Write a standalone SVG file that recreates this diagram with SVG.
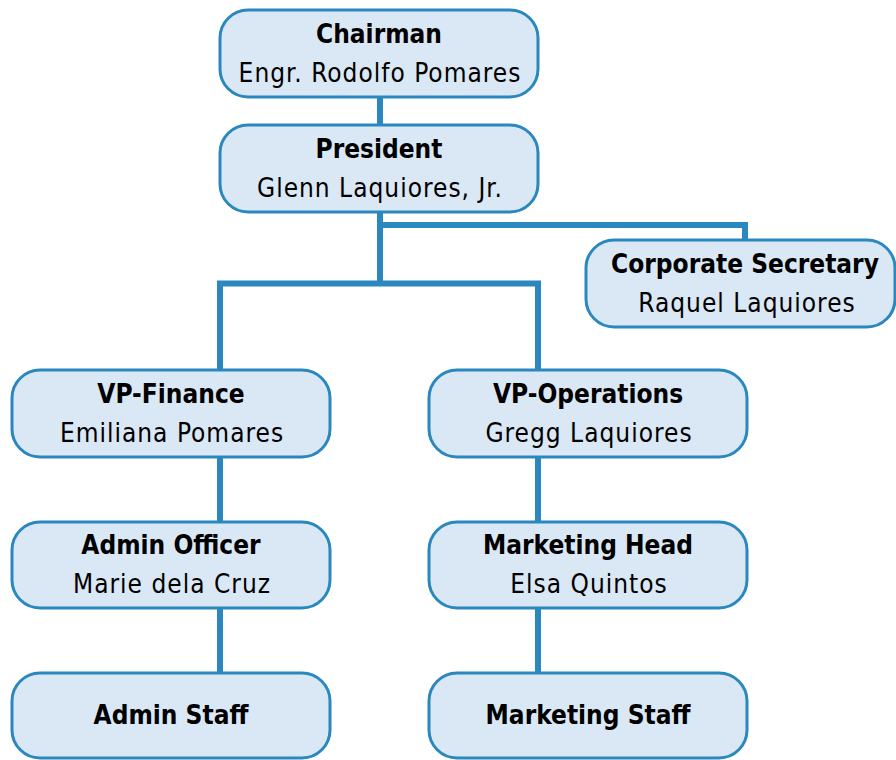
<svg xmlns="http://www.w3.org/2000/svg" width="896" height="760" viewBox="0 0 896 760">
  <style>
    .box { fill: #d9e8f4; stroke: #2b88bf; stroke-width: 3; }
    .title { font-family: "DejaVu Sans Condensed", "DejaVu Sans", sans-serif; font-stretch: condensed; font-weight: bold; font-size: 26px; fill: #000; text-anchor: middle; }
    .name { font-family: "DejaVu Sans Condensed", "DejaVu Sans", sans-serif; font-stretch: condensed; font-size: 26px; letter-spacing: 1px; fill: #000; text-anchor: middle; }
    .link { fill: none; stroke: #2b88bf; stroke-width: 6; stroke-linejoin: miter; }
  </style>
  <rect width="896" height="760" fill="#ffffff"/>

  <g id="connectors">
    <path class="link" d="M380,97 V125"/>
    <path class="link" d="M380,212 V283 M220,370 V283.5 H538 V370"/>
    <path class="link" d="M380,225 H745 V240"/>
    <path class="link" d="M220,457 V522 M220,608 V673"/>
    <path class="link" d="M538,457 V522 M538,608 V673"/>
  </g>

  <g id="chairman">
    <rect class="box" x="220" y="10" width="318" height="87" rx="28"/>
    <text class="title" x="379" y="43">Chairman</text>
    <text class="name" x="380" y="82">Engr. Rodolfo Pomares</text>
  </g>
  <g id="president">
    <rect class="box" x="220" y="125" width="318" height="87" rx="28"/>
    <text class="title" x="379" y="158">President</text>
    <text class="name" x="380" y="197">Glenn Laquiores, Jr.</text>
  </g>
  <g id="corporate-secretary">
    <rect class="box" x="586" y="240" width="309" height="87" rx="28"/>
    <text class="title" x="745" y="273">Corporate Secretary</text>
    <text class="name" x="747" y="312">Raquel Laquiores</text>
  </g>
  <g id="vp-finance">
    <rect class="box" x="12" y="370" width="318" height="87" rx="28"/>
    <text class="title" x="171" y="403">VP-Finance</text>
    <text class="name" x="172" y="442">Emiliana Pomares</text>
  </g>
  <g id="vp-operations">
    <rect class="box" x="429" y="370" width="318" height="87" rx="28"/>
    <text class="title" x="588" y="403">VP-Operations</text>
    <text class="name" x="589" y="442">Gregg Laquiores</text>
  </g>
  <g id="admin-officer">
    <rect class="box" x="12" y="522" width="318" height="86" rx="28"/>
    <text class="title" x="171" y="554">Admin Officer</text>
    <text class="name" x="172" y="593">Marie dela Cruz</text>
  </g>
  <g id="marketing-head">
    <rect class="box" x="429" y="522" width="318" height="86" rx="28"/>
    <text class="title" x="588" y="554">Marketing Head</text>
    <text class="name" x="589" y="593">Elsa Quintos</text>
  </g>
  <g id="admin-staff">
    <rect class="box" x="12" y="673" width="318" height="85" rx="28"/>
    <text class="title" x="171" y="724">Admin Staff</text>
  </g>
  <g id="marketing-staff">
    <rect class="box" x="429" y="673" width="318" height="85" rx="28"/>
    <text class="title" x="588" y="724">Marketing Staff</text>
  </g>
</svg>
